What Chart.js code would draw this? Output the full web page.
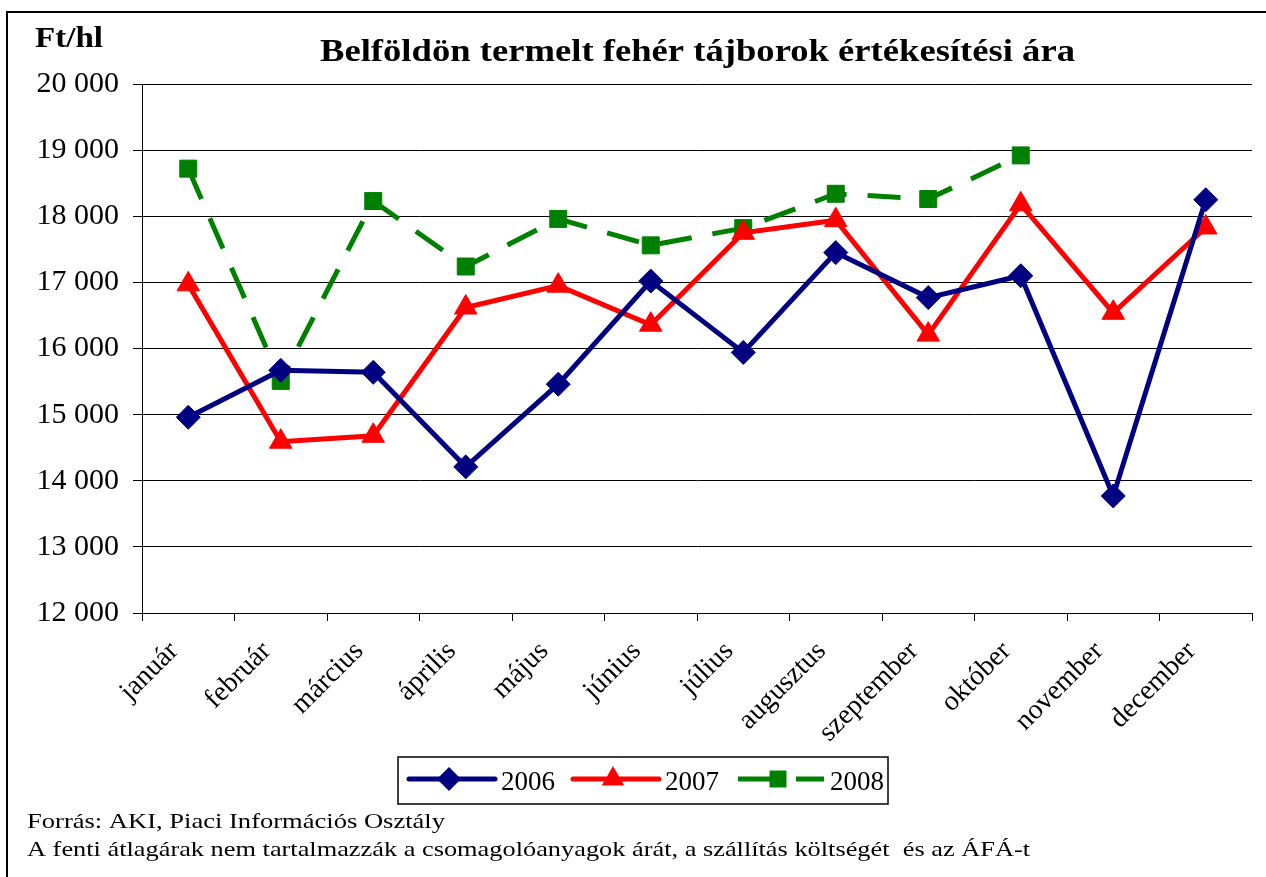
<!DOCTYPE html>
<html>
<head>
<meta charset="utf-8">
<script src="https://cdn.jsdelivr.net/npm/chart.js@4.4.1/dist/chart.umd.min.js"></script>
<style>
    html, body { margin: 0; padding: 0; background: #fff; }
</style>
</head>
<body>
<canvas id="tajbor" width="1266" height="877"></canvas>
<script>
// Categories
const honapok = ['január', 'február', 'március', 'április', 'május', 'június',
    'július', 'augusztus', 'szeptember', 'október', 'november', 'december'];

// Ft/hl values
const ar2006 = [14960, 15670, 15640, 14210, 15460, 17020, 15940, 17450, 16770, 17100, 13770, 18250];
const ar2007 = [16970, 14590, 14680, 16620, 16950, 16360, 17750, 17940, 16210, 18180, 16540, 17830];
const ar2008 = [18720, 15510, 18230, 17240, 17960, 17560, 17820, 18340, 18260, 18920, null, null];

const evek = ['2006', '2007', '2008'];

const yMin = 12000, yMax = 20000, yStep = 1000;

const fmt = (v) => String(v).replace(/\B(?=(\d{3})+(?!\d))/g, ' ');

const serif = 'Liberation Serif, Times New Roman, serif';

// draw text stretched to a given width (the picture's text is a bit wide)
function fitText(ctx, text, x, y, font, width) {
    ctx.save();
    ctx.font = font;
    const w = ctx.measureText(text).width;
    ctx.translate(x, y);
    ctx.scale(width / w, 1);
    ctx.fillText(text, 0, 0);
    ctx.restore();
}

function drawMarker(ctx, style, x, y, r, color) {
    ctx.save();
    ctx.fillStyle = color;
    ctx.beginPath();
    if (style == 'rectRot') {
        ctx.moveTo(x - r, y);
        ctx.lineTo(x, y - r);
        ctx.lineTo(x + r, y);
        ctx.lineTo(x, y + r);
    } else if (style == 'triangle') {
        ctx.moveTo(x, y - r);
        ctx.lineTo(x + r * 0.866, y + r / 2);
        ctx.lineTo(x - r * 0.866, y + r / 2);
    } else {
        const s = r * Math.SQRT1_2;
        ctx.rect(x - s, y - s, 2 * s, 2 * s);
    }
    ctx.closePath();
    ctx.fill();
    ctx.restore();
}

const keret = {
    id: 'keret',
    afterDraw(chart) {
        const ctx = chart.ctx;
        ctx.save();

        // outer frame (left and top edges visible)
        ctx.strokeStyle = '#000';
        ctx.lineWidth = 2;
        ctx.strokeRect(7, 12, 1300, 900);

        ctx.fillStyle = '#000';
        ctx.textBaseline = 'alphabetic';
        ctx.textAlign = 'left';
        fitText(ctx, 'Ft/hl', 35, 47, 'bold 29px ' + serif, 68);
        fitText(ctx, 'Belföldön termelt fehér tájborok értékesítési ára', 320, 61, 'bold 32px ' + serif, 755);

        // legend
        ctx.lineWidth = 1.5;
        ctx.strokeRect(398, 757, 490, 47);
        const lx = [409, 573, 738];
        const ly = 779;
        chart.data.datasets.forEach((ds, i) => {
            const x0 = lx[i];
            ctx.save();
            ctx.strokeStyle = ds.borderColor;
            ctx.lineWidth = ds.borderWidth;
            ctx.lineCap = ds.borderDash ? 'butt' : 'round';
            ctx.setLineDash(ds.borderDash ? [32, 26] : []);
            ctx.beginPath();
            ctx.moveTo(x0, ly);
            ctx.lineTo(x0 + 86, ly);
            ctx.stroke();
            ctx.restore();
            drawMarker(ctx, ds.pointStyle, x0 + 40, ly, ds.pointRadius, ds.backgroundColor);
            ctx.fillStyle = '#000';
            ctx.font = '27px ' + serif;
            ctx.fillText(ds.label, x0 + 92, ly + 11);
        });

        // footer
        ctx.fillStyle = '#000';
        fitText(ctx, 'Forrás: AKI, Piaci Információs Osztály', 27, 828, '22px ' + serif, 418);
        fitText(ctx, 'A fenti átlagárak nem tartalmazzák a csomagolóanyagok árát, a szállítás költségét  és az ÁFÁ-t', 27, 856, '22px ' + serif, 1003);

        ctx.restore();
    }
};

new Chart(document.getElementById('tajbor').getContext('2d'), {
    type: 'line',
    data: {
        labels: honapok,
        datasets: [{
            label: evek[0],
            data: ar2006,
            borderColor: '#000080',
            backgroundColor: '#000080',
            borderWidth: 5,
            pointStyle: 'rectRot',
            pointRadius: 12,
            pointBorderWidth: 1,
            tension: 0,
        }, {
            label: evek[1],
            data: ar2007,
            borderColor: '#ff0000',
            backgroundColor: '#ff0000',
            borderWidth: 5,
            pointStyle: 'triangle',
            pointRadius: 13,
            pointBorderWidth: 1,
            tension: 0,
        }, {
            label: evek[2],
            data: ar2008,
            borderColor: '#008000',
            backgroundColor: '#008000',
            borderWidth: 5,
            borderDash: [33, 21],
            pointStyle: 'rect',
            pointRadius: 12,
            pointBorderWidth: 1,
            tension: 0,
            spanGaps: false,
        }],
    },
    options: {
        responsive: false,
        animation: false,
        layout: {
            padding: { top: 84, right: 10, left: 0, bottom: 0 }
        },
        plugins: {
            legend: { display: false },
            tooltip: { enabled: false },
            title: { display: false }
        },
        scales: {
            x: {
                offset: true,
                grid: {
                    offset: true,
                    drawOnChartArea: false,
                    drawTicks: true,
                    tickLength: 8,
                    color: '#000',
                    lineWidth: 1
                },
                border: { color: '#000', width: 1 },
                ticks: {
                    color: '#000',
                    font: { family: serif, size: 28 },
                    minRotation: 45,
                    maxRotation: 45,
                    autoSkip: false,
                    padding: 14,
                    labelOffset: -14
                },
                afterFit: (scale) => { scale.height = 264; }
            },
            y: {
                min: yMin,
                max: yMax,
                ticks: {
                    stepSize: yStep,
                    color: '#000',
                    font: { family: serif, size: 30 },
                    padding: 14,
                    callback: (value) => fmt(value)
                },
                grid: {
                    color: '#000',
                    lineWidth: 1,
                    tickLength: 9,
                    drawTicks: true
                },
                border: { color: '#000', width: 1 },
                afterFit: (scale) => { scale.width = 142; }
            }
        }
    },
    plugins: [keret]
});
</script>
</body>
</html>
